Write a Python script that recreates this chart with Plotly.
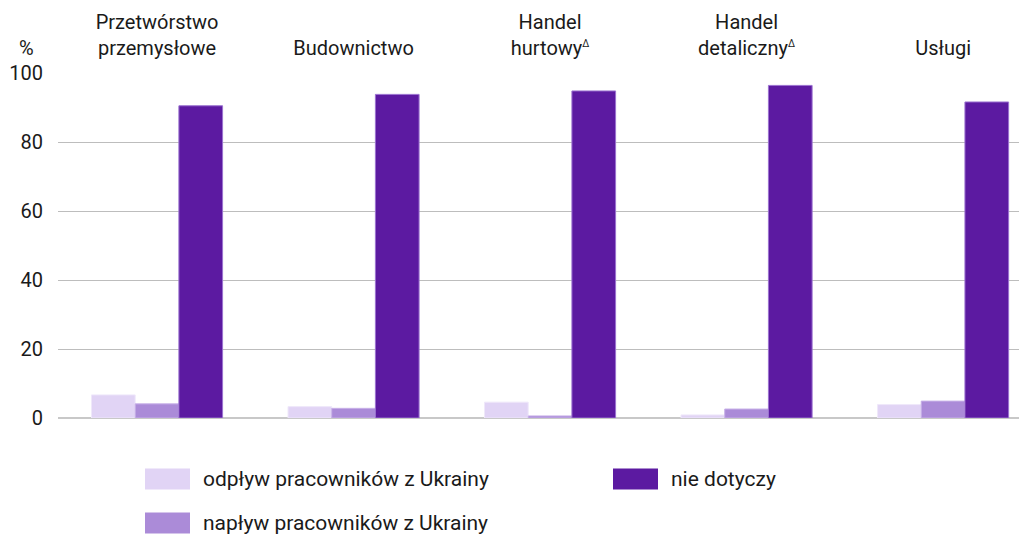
import plotly.graph_objects as go

SUP = "<sup><span style='font-size:10px'>Δ</span></sup>"
categories = ["Przetwórstwo<br>przemysłowe", "Budownictwo", "Handel<br>hurtowy" + SUP,
              "Handel<br>detaliczny" + SUP, "Usługi"]
series_names = ["odpływ pracowników z Ukrainy", "napływ pracowników z Ukrainy", "nie dotyczy"]
odplyw = [6.7, 3.3, 4.6, 0.9, 3.9]
naplyw = [4.1, 2.8, 0.6, 2.6, 4.9]
nie_dotyczy = [90.5, 93.8, 94.8, 96.4, 91.6]
y_ticks = [0, 20, 40, 60, 80, 100]

colors = ["#e1d4f5", "#ab8bd8", "#5c1aa1"]
edge = ["#efe8fa", "#c7b0e8", "#9b72d0"]
FONT = "Roboto, sans-serif"

# the page places the figure 8px from the top-left corner
OFF = 8
W, H = 1027 - OFF, 537 - OFF
L, T, B, R = 58 - OFF, 73 - OFF, 537 - 418, 0

fig = go.Figure()
for name, vals, c, e in zip(series_names, [odplyw, naplyw, nie_dotyczy], colors, edge):
    fig.add_trace(go.Bar(x=list(range(len(categories))), y=vals, name=name,
                         marker=dict(color=c, line=dict(color=e, width=1)),
                         showlegend=False))

fig.update_layout(
    barmode="group", bargap=0.333, bargroupgap=0,
    width=W, height=H,
    margin=dict(l=L, r=R, t=T, b=B),
    plot_bgcolor="white", paper_bgcolor="white",
    font=dict(family=FONT, size=20, color="#1a1a1a"),
    xaxis=dict(side="top", tickmode="array", tickvals=list(range(len(categories))),
               ticktext=categories, range=[-0.504, 4.427], showgrid=False,
               ticks="", tickfont=dict(size=20), zeroline=False, showline=False,
               ticklabelstandoff=13),
    yaxis=dict(range=[0, 100], tickvals=y_ticks, showgrid=True, gridcolor="#bdbdbd",
               gridwidth=1, zeroline=True, zerolinecolor="#c8c8c8", zerolinewidth=2,
               tickfont=dict(size=20), ticks="", ticklabelstandoff=14),
)

pw, ph = W - L - R, H - T - B
def px(xp):
    return (xp - OFF - L) / pw
def py(yp):
    return (H - B - (yp - OFF)) / ph

fig.add_annotation(text="%", xref="paper", yref="paper", x=px(17), y=py(48),
                   xanchor="left", yanchor="middle", showarrow=False,
                   font=dict(size=20, family=FONT))

# legend swatches drawn as shapes
legend_pos = [(145, 479), (145, 523), (613, 479)]
for (lx, ly), name, c in zip(legend_pos, series_names, colors):
    fig.add_shape(type="rect", xref="paper", yref="paper",
                  x0=px(lx), x1=px(lx + 45), y0=py(ly + 10.5), y1=py(ly - 10.5),
                  fillcolor=c, line=dict(width=0))
    fig.add_annotation(text=name, xref="paper", yref="paper", x=px(lx + 56), y=py(ly),
                       xanchor="left", yanchor="middle", showarrow=False,
                       font=dict(size=21, family=FONT))

fig.write_html("out.html")
